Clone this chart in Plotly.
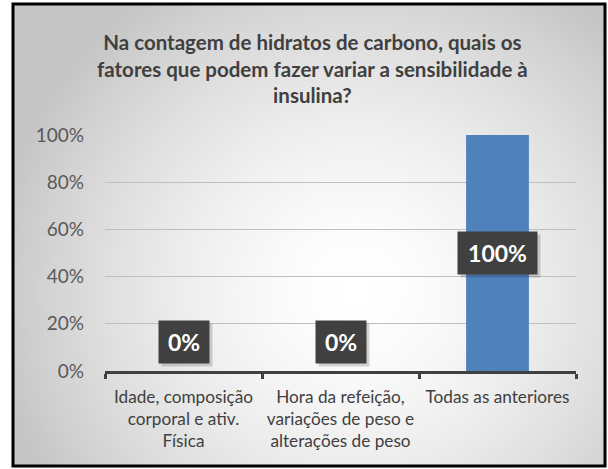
import base64, struct, zlib, math
import plotly.graph_objects as go

title_lines = ["Na contagem de hidratos de carbono, quais os",
               "fatores que podem fazer variar a sensibilidade à",
               "insulina?"]
categories = ["Idade, composição<br>corporal e ativ.<br>Física",
              "Hora da refeição,<br>variações de peso e<br>alterações de peso",
              "Todas as anteriores"]
values = [0, 0, 100]
value_labels = ["0%", "0%", "100%"]
y_ticks = [0, 20, 40, 60, 80, 100]
y_tick_labels = ["0%", "20%", "40%", "60%", "80%", "100%"]

# ---- radial gradient background as an inline PNG ----
def make_png(w, h):
    rows = []
    for j in range(h):
        row = bytearray([0])
        v = j / (h - 1)
        for i in range(w):
            u = i / (w - 1)
            d = math.sqrt(((u - 0.58) / 0.62) ** 2 + ((v - 0.62) / 0.78) ** 2)
            d = min(d, 1.0)
            c = int(round(255 - 57 * d ** 1.6))
            row += bytes([c, c, c])
        rows.append(bytes(row))
    raw = b"".join(rows)
    def chunk(t, data):
        c = struct.pack(">I", len(data)) + t + data
        return c + struct.pack(">I", zlib.crc32(t + data) & 0xffffffff)
    png = b"\x89PNG\r\n\x1a\n"
    png += chunk(b"IHDR", struct.pack(">IIBBBBB", w, h, 8, 2, 0, 0, 0))
    png += chunk(b"IDAT", zlib.compress(raw, 9))
    png += chunk(b"IEND", b"")
    return "data:image/png;base64," + base64.b64encode(png).decode()

W, H = 608, 469
ML, MR, MT, MB = 105, 32, 135, 98
PW, PH = W - ML - MR, H - MT - MB

def px(x):
    return (x - ML) / PW

def py(y):
    return (H - MB - y) / PH

fig = go.Figure()
fig.add_trace(go.Bar(x=categories, y=values, marker=dict(color="#4f81bd", line=dict(width=0)),
                     width=0.4, hoverinfo="skip"))

font_main = "Lato, 'Open Sans', sans-serif"

# data labels
for cat, v, lab in zip(categories, values, value_labels):
    ypos = max(v / 2, 12.3)
    bw = 50 if len(lab) <= 2 else 79
    fig.add_annotation(x=cat, y=ypos, text=" ", showarrow=False, xref="x", yref="y",
                       width=bw, height=42, borderpad=0,
                       bgcolor="rgba(0,0,0,0.16)", xshift=3, yshift=-3)
    fig.add_annotation(x=cat, y=ypos, text="<b>" + lab + "</b>", showarrow=False, xref="x", yref="y",
                       width=bw, height=42, borderpad=0, valign="middle", align="center",
                       font=dict(family=font_main, size=23, color="white"),
                       bgcolor="#404040")

fig.add_annotation(text="<b>" + "<br>".join(title_lines) + "</b>", xref="paper", yref="paper",
                   x=px(312), y=py(68), xanchor="center", yanchor="middle", showarrow=False,
                   align="center",
                   font=dict(family=font_main, size=20.5, color="#404040"))

fig.update_layout(
    width=W, height=H,
    margin=dict(l=ML, r=MR, t=MT, b=MB, autoexpand=False),
    paper_bgcolor="white", plot_bgcolor="rgba(0,0,0,0)",
    showlegend=False,
    bargap=0.6,
    images=[dict(source=make_png(120, 92), xref="paper", yref="paper",
                 x=px(13), y=py(4), sizex=(605 - 13) / PW, sizey=(466 - 4) / PH,
                 sizing="stretch", xanchor="left", yanchor="top", layer="below")],
    shapes=[dict(type="rect", xref="paper", yref="paper", x0=px(13), x1=px(605),
                 y0=py(466), y1=py(4), line=dict(color="black", width=3), layer="above")],
)
fig.update_yaxes(range=[0, 100], tickvals=y_ticks, ticktext=y_tick_labels,
                 showgrid=True, gridcolor="#bfbfbf", gridwidth=1, zeroline=False,
                 showline=False, ticks="", ticklabelstandoff=20, automargin=False,
                 tickfont=dict(family=font_main, size=19, color="#595959"))
fig.update_xaxes(showline=True, linecolor="#404040", linewidth=3,
                 ticks="outside", tickson="boundaries", ticklen=5, tickwidth=3, tickcolor="#404040",
                 ticklabelstandoff=8, tickangle=0, automargin=False,
                 tickfont=dict(family=font_main, size=17.2, color="#404040"))

fig.write_html("out.html", config={"displayModeBar": False},
               post_script="document.body.style.margin='0';")
